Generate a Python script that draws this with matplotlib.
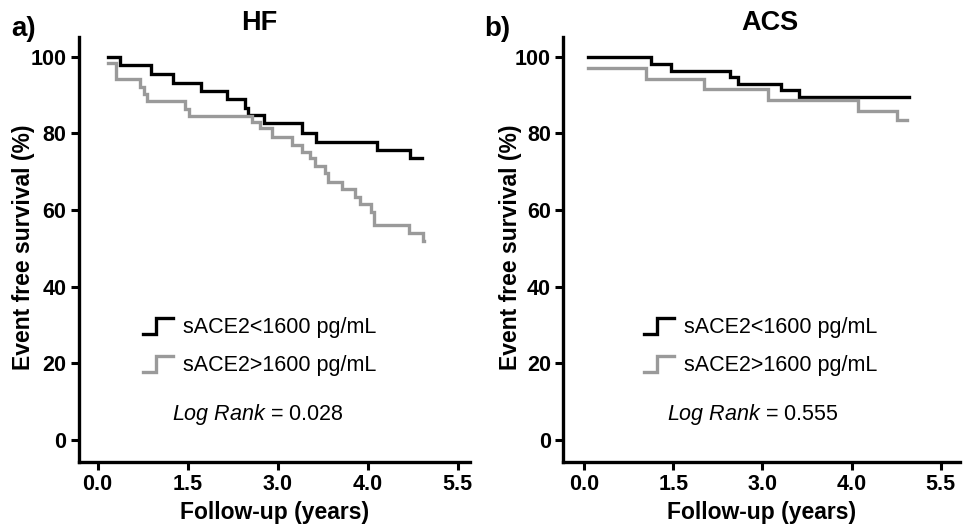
import numpy as np
import matplotlib
matplotlib.use("Agg")
import matplotlib.pyplot as plt
from matplotlib.lines import Line2D
from matplotlib.legend_handler import HandlerBase

plt.rcParams['font.family'] = ['Liberation Sans', 'DejaVu Sans']
plt.rcParams['mathtext.fontset'] = 'custom'
plt.rcParams['mathtext.it'] = 'Liberation Sans:italic'
plt.rcParams['mathtext.rm'] = 'Liberation Sans'

# Tick positions are evenly spaced, labels as printed in the figure
x_ticks = [0.0, 1.5, 3.0, 4.5, 6.0]
x_tick_labels = ['0.0', '1.5', '3.0', '4.0', '5.5']
y_ticks = [0, 20, 40, 60, 80, 100]

# HF panel
hf_low_t = [0.17, 0.37, 0.89, 1.25, 1.72, 2.15, 2.45, 2.50, 2.77, 3.41, 3.63, 4.65, 5.20, 5.40]
hf_low_s = [100, 97.8, 95.5, 93.2, 91.0, 88.9, 86.6, 84.8, 82.6, 80.0, 77.8, 75.7, 73.5, 73.5]
hf_high_t = [0.17, 0.30, 0.70, 0.77, 0.83, 1.45, 1.52, 2.57, 2.70, 2.90, 3.23, 3.40, 3.54,
             3.62, 3.79, 3.84, 4.07, 4.29, 4.37, 4.55, 4.60, 5.18, 5.42, 5.43]
hf_high_s = [98.3, 94.2, 92.2, 90.4, 88.4, 86.5, 84.6, 83.0, 81.3, 79.1, 77.0, 75.2, 73.5,
             71.5, 69.6, 67.4, 65.5, 63.5, 61.6, 59.6, 56.1, 54.1, 51.8, 51.8]

# ACS panel
acs_low_t = [0.07, 1.12, 1.47, 2.45, 2.59, 3.32, 3.62, 5.47]
acs_low_s = [100, 98.1, 96.4, 94.8, 93.0, 91.3, 89.4, 89.4]
acs_high_t = [0.07, 1.04, 2.01, 3.09, 4.60, 5.27, 5.43]
acs_high_s = [97.1, 94.3, 91.6, 88.7, 85.9, 83.5, 83.5]

legend_labels = ['sACE2<1600 pg/mL', 'sACE2>1600 pg/mL']
log_rank = ['0.028', '0.555']
titles = ['HF', 'ACS']
letters = ['a)', 'b)']

BLACK = '#000000'
GREY = '#9a9a9a'


class StepHandler(HandlerBase):
    # little step symbol as used in the legend of KM plots
    def create_artists(self, legend, orig_handle, xdescent, ydescent,
                       width, height, fontsize, trans):
        x0 = -xdescent
        y0 = -ydescent - 0.05 * height
        y1 = -ydescent + 1.0 * height
        xm = x0 + 0.42 * width
        line = Line2D([x0, xm, xm, x0 + width], [y0, y0, y1, y1],
                      color=orig_handle.get_color(), lw=orig_handle.get_linewidth(),
                      solid_joinstyle='miter', transform=trans)
        return [line]


fig = plt.figure(figsize=(9.65, 5.27), dpi=100)
axes_pos = [[0.0819, 0.124, 0.405, 0.806], [0.5837, 0.124, 0.411, 0.806]]
xlims = [(-0.31, 6.2), (-0.35, 6.32)]
leg_x = [0.164, 0.204]
lr_x = [0.458, 0.477]
title_x = [0.46, 0.52]
letter_x = [0.012, 0.502]
ylab_x = [-0.1125, -0.105]
data = [((hf_low_t, hf_low_s), (hf_high_t, hf_high_s)),
        ((acs_low_t, acs_low_s), (acs_high_t, acs_high_s))]

for i in range(2):
    ax = fig.add_axes(axes_pos[i])
    (lt, ls), (ht, hs) = data[i]
    l1, = ax.step(lt, ls, where='post', color=BLACK, lw=2.4, solid_joinstyle='miter')
    l2, = ax.step(ht, hs, where='post', color=GREY, lw=2.4, solid_joinstyle='miter')
    ax.set_xlim(*xlims[i])
    ax.set_ylim(-5.7, 105.2)
    ax.set_xticks(x_ticks)
    ax.set_xticklabels(x_tick_labels)
    ax.set_yticks(y_ticks)
    for s in ['top', 'right']:
        ax.spines[s].set_visible(False)
    for s in ['left', 'bottom']:
        ax.spines[s].set_linewidth(2.4)
    ax.tick_params(direction='out', length=6, width=2.2, labelsize=15.5, pad=3)
    for lab in ax.get_xticklabels() + ax.get_yticklabels():
        lab.set_fontweight('bold')
    ax.set_xlabel('Follow-up (years)', fontsize=16.5, fontweight='bold')
    ax.set_ylabel('Event free survival (%)', fontsize=16.5, fontweight='bold')
    ax.xaxis.set_label_coords(0.5, -0.0925)
    ax.yaxis.set_label_coords(ylab_x[i], 0.505)
    ax.text(title_x[i], 1.033, titles[i], transform=ax.transAxes, ha='center', va='center',
            fontsize=19.5, fontweight='bold')
    fig.text(letter_x[i], 0.945, letters[i], ha='left', va='center', fontsize=20, fontweight='bold')

    ax.legend([l1, l2], legend_labels, handler_map={Line2D: StepHandler()},
              loc='upper left', bbox_to_anchor=(leg_x[i], 0.34), frameon=False,
              fontsize=15.5, handlelength=1.4, handletextpad=0.47, labelspacing=0.8,
              borderpad=0, borderaxespad=0)
    ax.text(lr_x[i], 0.11, r'$\it{Log\ Rank}$ = ' + log_rank[i], transform=ax.transAxes,
            ha='center', va='center', fontsize=15.5)

fig.savefig('out.png', dpi=100)
